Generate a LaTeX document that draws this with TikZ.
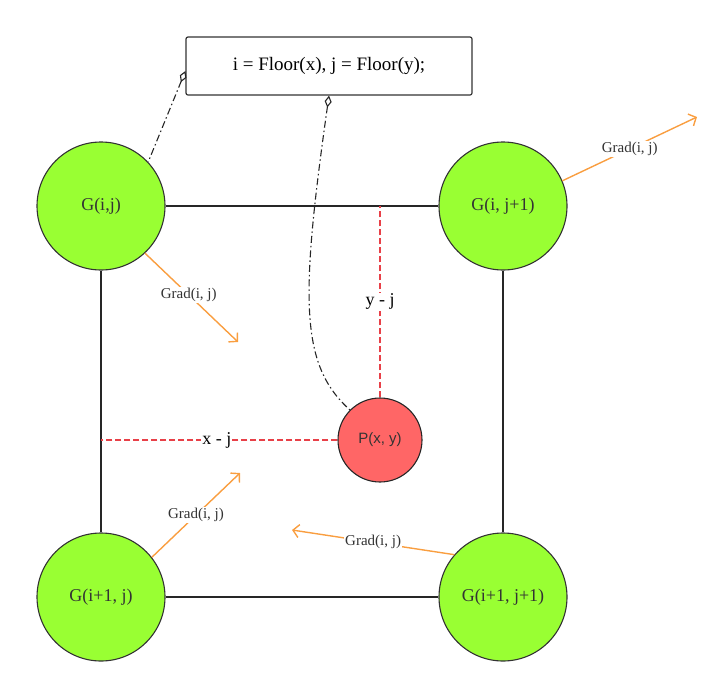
\documentclass[tikz,border=0pt]{standalone}
\usepackage{fontspec}
\setmainfont{Liberation Serif}
\newfontfamily\pointsans{Liberation Sans}
\usetikzlibrary{arrows.meta}
\definecolor{cornergreen}{RGB}{153,255,51}
\definecolor{pointred}{RGB}{255,102,102}
\definecolor{dashred}{RGB}{232,64,72}
\definecolor{gradorange}{RGB}{249,158,64}
\definecolor{inkgray}{RGB}{51,51,51}

\begin{document}
\begin{tikzpicture} [x=1pt, y=-1pt,
		corner/.style = {circle, draw=inkgray, line width=1.1pt, fill=cornergreen,
			minimum size=128pt, inner sep=0pt, text=inkgray,
			font=\fontsize{18}{20}\selectfont},
		point/.style = {circle, draw=black!85, line width=1.1pt, fill=pointred,
			minimum size=84pt, inner sep=0pt, text=inkgray,
			font=\pointsans\fontsize{15}{17}\selectfont},
		formula/.style = {rectangle, rounded corners=2pt, draw=inkgray, line width=1.2pt,
			minimum width=286pt, minimum height=58pt, font=\fontsize{19}{21}\selectfont},
		edge/.style = {draw=black!85, line width=1.1pt},
		offset/.style = {draw=dashred, line width=1.2pt, dash pattern=on 6pt off 3pt},
		offsetlabel/.style = {fill=white, inner sep=1pt, font=\fontsize{18}{20}\selectfont},
		owner/.style = {draw=black!85, line width=1.1pt,
			dash pattern=on 7pt off 3pt on 1.5pt off 3pt,
			{Diamond[open, length=12pt, width=7pt]}-},
		grad/.style = {draw=gradorange, line width=1.4pt,
			-{Straight Barb[length=6pt, width=13pt]}},
		gradlabel/.style = {fill=white, inner sep=1pt, text=inkgray,
			font=\fontsize{15}{17}\selectfont}]
	\useasboundingbox (0,0) rectangle (720,686);

	% corner nodes of the cell
	\node (gij)   [corner] at (101,206) {G(i,j)};
	\node (gij1)  [corner] at (503,206) {G(i, j+1)};
	\node (gi1j)  [corner] at (101,597) {G(i+1, j)};
	\node (gi1j1) [corner] at (503,597) {G(i+1, j+1)};
	\node (p)     [point]  at (380,440) {P(x, y)};
	\node (floor) [formula] at (329,66) {i = Floor(x), j = Floor(y);};

	% cell edges
	\path [edge] (gij) -- (gij1);
	\path [edge] (gij) -- (gi1j);
	\path [edge] (gij1) -- (gi1j1);
	\path [edge] (gi1j) -- (gi1j1);

	% offsets of P
	\path [offset] (p.north) -- node [offsetlabel] {y - j} (p.north |- gij.east);
	\path [offset] (p.west) -- node [offsetlabel, pos=0.51] {x - j} (gij.south |- p.west);

	% floor box links
	\path [owner] ([yshift=-5pt]floor.west) -- (gij.43);
	\path [owner] (floor.south) .. controls (300,300) and (300,365) .. (p.135);

	% gradient vectors
	\coordinate (tip1) at (238,342);
	\coordinate (tip2) at (697,117);
	\coordinate (tip3) at (240,473);
	\coordinate (tip4) at (292,530);
	\path [grad] (gij.-47) -- node [gradlabel, pos=0.47] {Grad(i, j)} (tip1);
	\path [grad] (gij1.23) -- node [gradlabel] {Grad(i, j)} (tip2);
	\path [grad] (gi1j.38) -- node [gradlabel] {Grad(i, j)} (tip3);
	\path [grad] (gi1j1.139) -- node [gradlabel] {Grad(i, j)} (tip4);
\end{tikzpicture}
\end{document}
